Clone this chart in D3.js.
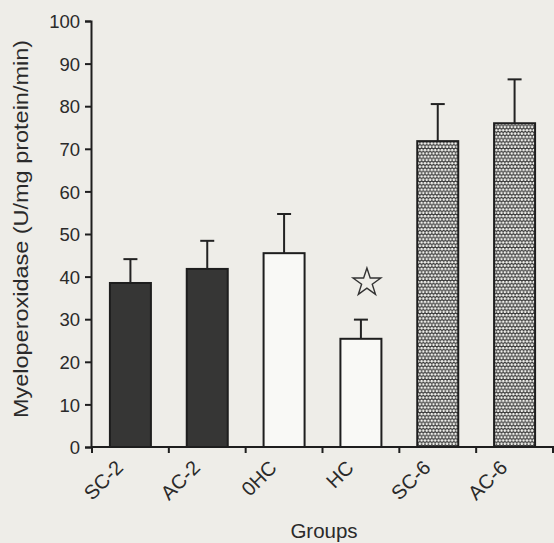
<!DOCTYPE html>
<html>
<head>
<meta charset="utf-8">
<script src="https://cdn.jsdelivr.net/npm/d3@7/dist/d3.min.js"></script>
<style>
  html, body { margin: 0; padding: 0; background: #eeede8; }
  svg { display: block; }
  text { font-family: "Liberation Sans", Arial, sans-serif; fill: #2a2a2a; }
</style>
</head>
<body>
<svg id="chart" width="554" height="543"></svg>
<script>
// Myeloperoxidase activity by group (mean with upper SD bar)
const groups = ["SC-2", "AC-2", "0HC", "HC", "SC-6", "AC-6"];
const means  = [38.5, 41.8, 45.5, 25.4, 71.8, 76.0];
const upper  = [44.1, 48.4, 54.7, 29.9, 80.5, 86.3];
const fills  = ["dark", "dark", "open", "open", "dots", "dots"];
const yTicks = [0, 10, 20, 30, 40, 50, 60, 70, 80, 90, 100];
const markedGroups = ["HC"];   // significantly different
const markLevel = 38.6;

const svg = d3.select("#chart");
const margin = { left: 91, right: 1, top: 21, bottom: 96 };
const W = 554, H = 543;

const x = d3.scaleBand().domain(groups)
  .range([margin.left + 1, W - margin.right]).paddingInner(0).paddingOuter(0);
const y = d3.scaleLinear().domain([0, 100]).range([H - margin.bottom, margin.top]);

// fill patterns
const defs = svg.append("defs");
const pw = 3.4, ph = 6.6;
const dots = defs.append("pattern").attr("id", "dots")
  .attr("patternUnits", "userSpaceOnUse").attr("width", pw).attr("height", ph);
dots.append("rect").attr("width", pw).attr("height", ph).attr("fill", "#2a2a2a");
[[pw / 2, ph / 4], [0, ph * 3 / 4], [pw, ph * 3 / 4]].forEach(([cx, cy]) =>
  dots.append("circle").attr("cx", cx).attr("cy", cy).attr("r", 1.35).attr("fill", "#f0f0ec"));

const fillFor = k => k === "dark" ? "#363635" : k === "dots" ? "url(#dots)" : "#f9f9f6";

const barW = 41;
const g = svg.append("g");

// bars
g.selectAll("rect.bar").data(groups).join("rect")
  .attr("class", "bar")
  .attr("x", d => x(d) + x.bandwidth() / 2 - barW / 2)
  .attr("width", barW)
  .attr("y", (d, i) => y(means[i]))
  .attr("height", (d, i) => y(0) - y(means[i]))
  .attr("fill", (d, i) => fillFor(fills[i]))
  .attr("stroke", "#1e1e1e").attr("stroke-width", 2);

// error bars (upper only)
const cap = 14;
groups.forEach((d, i) => {
  const cx = x(d) + x.bandwidth() / 2;
  g.append("line").attr("x1", cx).attr("x2", cx)
    .attr("y1", y(means[i])).attr("y2", y(upper[i]))
    .attr("stroke", "#222").attr("stroke-width", 2);
  g.append("line").attr("x1", cx - cap / 2).attr("x2", cx + cap / 2)
    .attr("y1", y(upper[i])).attr("y2", y(upper[i]))
    .attr("stroke", "#222").attr("stroke-width", 2);
});

// significance star
const star = d3.symbol().type(d3.symbolStar).size(240);
markedGroups.forEach(k => {
  const cx = x(k) + x.bandwidth() / 2 + 6;
  g.append("path").attr("d", star())
    .attr("transform", `translate(${cx},${y(markLevel)})`)
    .attr("fill", "none").attr("stroke", "#333").attr("stroke-width", 1.4);
});

// y axis
const yAxis = svg.append("g")
  .attr("transform", `translate(${margin.left},0)`)
  .call(d3.axisLeft(y).tickValues(yTicks).tickSize(6).tickSizeOuter(6).tickPadding(5));
yAxis.selectAll("text").style("font-size", "18.5px").attr("dy", "0.36em");

// x axis: ticks at band boundaries
const xAxisG = svg.append("g").attr("transform", `translate(0,${y(0)})`);
xAxisG.append("line").attr("x1", margin.left).attr("x2", W)
  .attr("stroke", "#1e1e1e").attr("stroke-width", 2);
const bounds = groups.map(d => x(d)).concat([x(groups[groups.length - 1]) + x.bandwidth()]);
xAxisG.selectAll("line.tick").data(bounds).join("line").attr("class", "tick")
  .attr("x1", d => d).attr("x2", d => d).attr("y1", 0).attr("y2", 6)
  .attr("stroke", "#1e1e1e").attr("stroke-width", 2);
xAxisG.selectAll("text.lab").data(groups).join("text").attr("class", "lab")
  .attr("transform", d => `translate(${x(d) + x.bandwidth() / 2 - 6},${22}) rotate(-45)`)
  .attr("text-anchor", "end")
  .style("font-size", "20px")
  .text(d => d);

svg.selectAll(".domain, .tick line").attr("stroke", "#1e1e1e").attr("stroke-width", 2);

// axis titles
svg.append("text")
  .attr("transform", `translate(28,${229}) rotate(-90)`)
  .attr("text-anchor", "middle").style("font-size", "20px")
  .attr("textLength", 378).attr("lengthAdjust", "spacingAndGlyphs")
  .text("Myeloperoxidase (U/mg protein/min)");
svg.append("text")
  .attr("x", 324).attr("y", 538)
  .attr("text-anchor", "middle").style("font-size", "20.5px")
  .text("Groups");
</script>
</body>
</html>
